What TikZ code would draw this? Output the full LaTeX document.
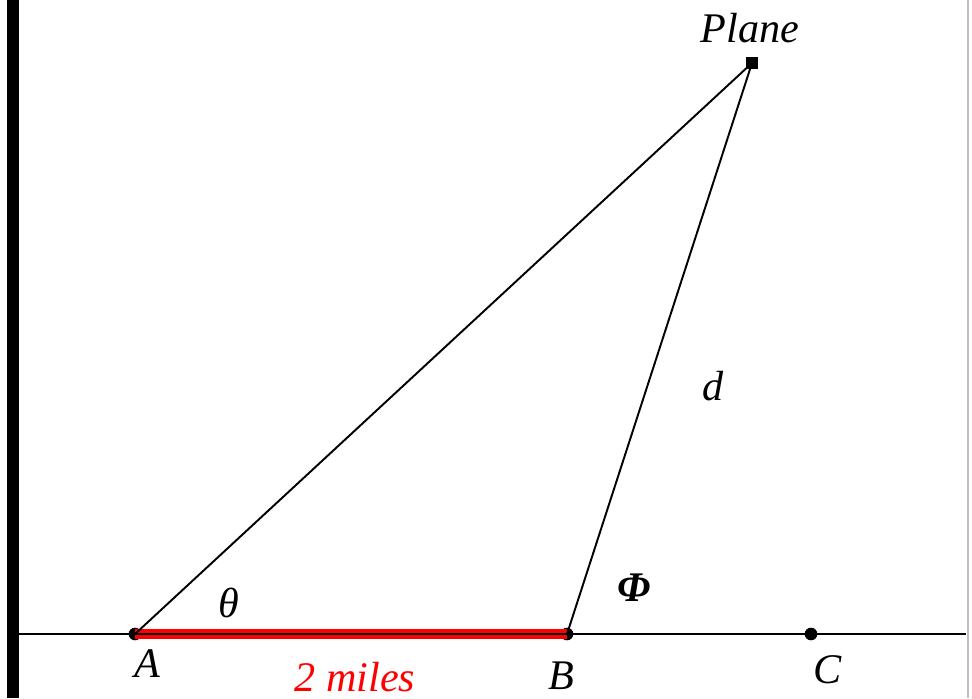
\documentclass[tikz,border=0pt]{standalone}
\usepackage{fontspec}
\setmainfont{Liberation Serif}
\usetikzlibrary{positioning}
\tikzset{
  pt/.style   ={circle,fill=black,inner sep=0pt,minimum size=7.2pt},
  ptsq/.style ={rectangle,fill=black,inner sep=0pt,minimum size=6.5pt},
  lbl/.style  ={font=\itshape\fontsize{24}{28}\selectfont,inner sep=0pt},
  seg/.style  ={line width=1.1pt},
  base/.style ={line width=5.5pt,red},
}

\begin{document}
\begin{tikzpicture}[x=0.02cm,y=-0.02cm]
\useasboundingbox (0,0) rectangle (972,698);
\fill[black] (7,0) rectangle (19,698);
\draw[gray!50,line width=0.8pt] (968,0) -- (968,698);
\coordinate (L) at (19,634);
\coordinate (R) at (966,634);
\node[pt] (A) at (135,634) {};
\node[pt] (B) at (567,634) {};
\node[pt] (C) at (811,634) {};
\node[ptsq] (P) at (752,63) {};
\draw[base] (A.center) -- (B.center);
\draw[seg] (L) -- (R);
\draw[seg] (A.center) -- (P.center) -- (B.center);
\node[lbl] (tA) at (147,664) {A};
\node[lbl] (tB) at (561,676) {B};
\node[lbl] (tC) at (828,670) {C};
\node[lbl] (tP) at (750,28) {Plane};
\node[lbl] (td) at (713,386) {d};
\node[lbl] (tth) at (229,603) {θ};
\node[lbl,font=\bfseries\itshape\fontsize{24}{28}\selectfont] (tph) at (634,588) {Φ};
\node[lbl,red] (tm) at (355,677) {2 miles};
\end{tikzpicture}
\end{document}
